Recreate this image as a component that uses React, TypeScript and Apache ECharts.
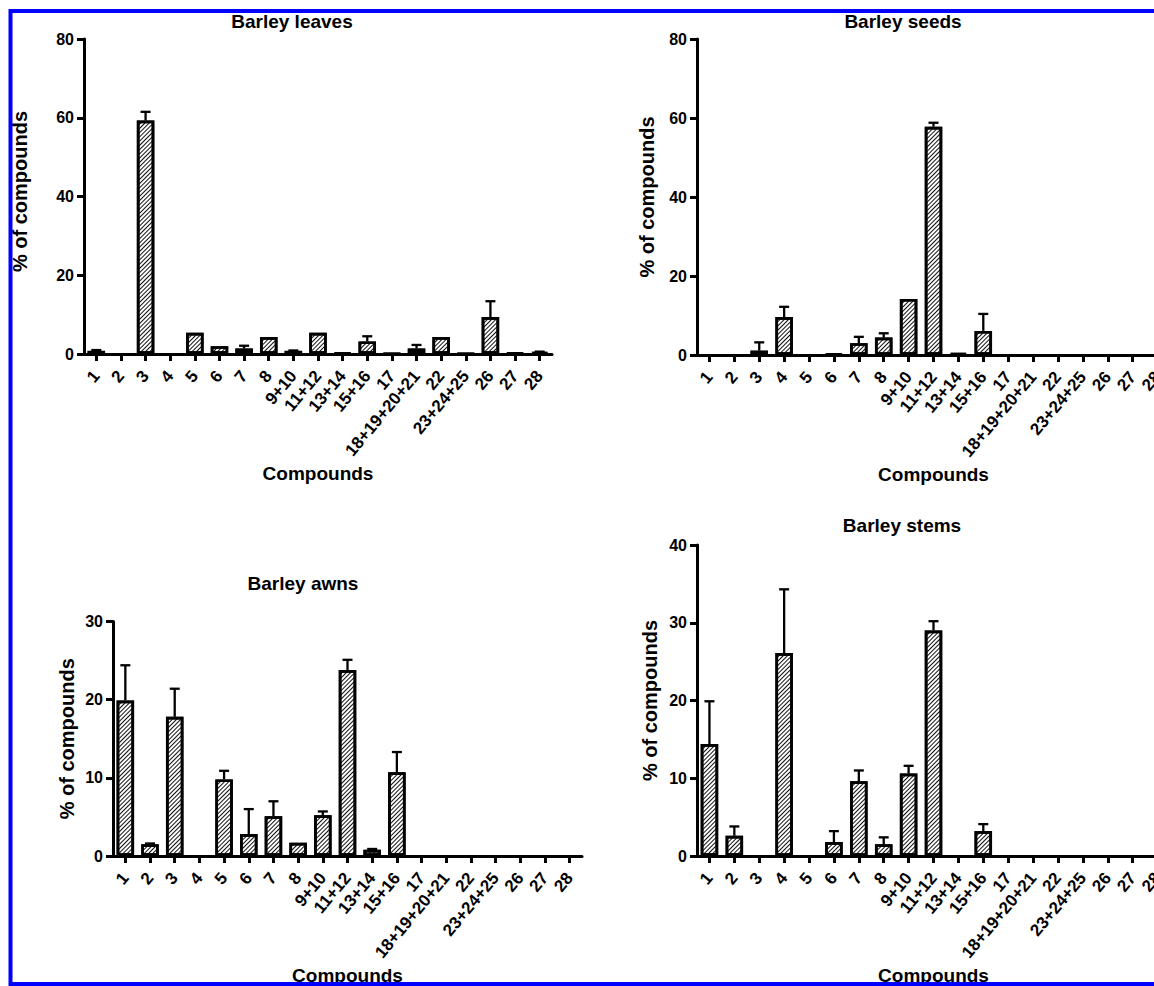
import React, { useEffect, useRef } from "react";
import * as echarts from "echarts";

const FONT = "'Liberation Sans', Arial, Helvetica, sans-serif";

const categories = [
  "1", "2", "3", "4", "5", "6", "7", "8", "9+10", "11+12", "13+14", "15+16",
  "17", "18+19+20+21", "22", "23+24+25", "26", "27", "28",
];

const leavesMean = [0.8, 0, 59.3, 0, 5.4, 2.0, 1.4, 4.3, 0.8, 5.4, 0.3, 3.2, 0.1, 1.4, 4.3, 0.1, 9.4, 0.3, 0.5];
const leavesErr = [0.2, 0, 2.2, 0, 0, 0, 0.7, 0, 0.1, 0, 0, 1.3, 0, 0.9, 0, 0, 4.0, 0, 0.1];

const seedsMean = [0, 0, 1.1, 9.6, 0, 0.3, 3.0, 4.4, 14.2, 57.8, 0.5, 6.1, 0, 0, 0, 0, 0, 0, 0];
const seedsErr = [0, 0, 2.1, 2.6, 0, 0, 1.6, 1.1, 0, 1.0, 0, 4.3, 0, 0, 0, 0, 0, 0, 0];

const awnsMean = [19.9, 1.5, 17.8, 0, 9.8, 2.8, 5.1, 1.7, 5.2, 23.8, 0.8, 10.7, 0, 0, 0, 0, 0, 0, 0];
const awnsErr = [4.5, 0.1, 3.6, 0, 1.1, 3.2, 1.9, 0, 0.5, 1.3, 0.1, 2.6, 0, 0, 0, 0, 0, 0, 0];

const stemsMean = [14.4, 2.6, 0, 26.1, 0, 1.8, 9.6, 1.5, 10.6, 29.0, 0, 3.2, 0, 0, 0, 0, 0, 0, 0];
const stemsErr = [5.5, 1.2, 0, 8.2, 0, 1.4, 1.4, 0.9, 1.0, 1.2, 0, 0.9, 0, 0, 0, 0, 0, 0, 0];

const panels = [
  { title: "Barley leaves", mean: leavesMean, err: leavesErr, max: 80, interval: 20,
    grid: { left: 84, top: 39, width: 468, height: 315 }, titleX: 292, titleTop: 12, yGap: 54, yNamePad: [0, 0, 0, 10] },
  { title: "Barley seeds", mean: seedsMean, err: seedsErr, max: 80, interval: 20,
    grid: { left: 697, top: 39, width: 473, height: 316 }, titleX: 903, titleTop: 12, yGap: 40, yNamePad: [0, 0, 0, 0] },
  { title: "Barley awns", mean: awnsMean, err: awnsErr, max: 30, interval: 10,
    grid: { left: 113, top: 621.5, width: 469, height: 240 }, titleX: 303, titleTop: 574, yGap: 36, yNamePad: [0, 0, 0, 0] },
  { title: "Barley stems", mean: stemsMean, err: stemsErr, max: 40, interval: 10,
    grid: { left: 697, top: 545, width: 473, height: 316 }, titleX: 902, titleTop: 516, yGap: 37, yNamePad: [0, 0, 0, 0] },
];

export default function App() {
  const ref = useRef<HTMLDivElement>(null);
  useEffect(() => {
    if (!ref.current) return;
    const chart = echarts.init(ref.current, null, { renderer: "svg" });
    const decal = {
      symbol: "rect",
      symbolSize: 1,
      color: "#111",
      dashArrayX: [1, 0],
      dashArrayY: [1, 2],
      rotation: -Math.PI / 4,
    };
    const option: any = {
      animation: false,
      backgroundColor: "#fff",
      title: panels.map((p) => ({
        text: p.title,
        left: p.titleX,
        top: p.titleTop,
        textAlign: "center",
        padding: 0,
        textStyle: { fontFamily: FONT, fontSize: 19, fontWeight: "bold", color: "#000" },
      })),
      grid: panels.map((p) => ({ ...p.grid, containLabel: false })),
      xAxis: panels.map((p, i) => ({
        type: "category",
        gridIndex: i,
        data: categories,
        name: "Compounds",
        nameLocation: "middle",
        nameGap: 110,
        nameTextStyle: { fontFamily: FONT, fontSize: 19, fontWeight: "bold", color: "#000" },
        axisLine: { show: true, lineStyle: { color: "#000", width: 3 } },
        axisTick: { show: true, alignWithLabel: true, length: 7, lineStyle: { color: "#000", width: 3 } },
        axisLabel: {
          interval: 0,
          rotate: 50,
          margin: 19,
          fontFamily: FONT,
          fontSize: 17,
          fontWeight: "bold",
          color: "#000",
        },
        splitLine: { show: false },
      })),
      yAxis: panels.map((p, i) => ({
        type: "value",
        gridIndex: i,
        min: 0,
        max: p.max,
        interval: p.interval,
        name: "% of compounds",
        nameLocation: "middle",
        nameGap: p.yGap,
        nameTextStyle: { fontFamily: FONT, fontSize: 20, fontWeight: "bold", color: "#000", padding: p.yNamePad },
        axisLine: { show: true, lineStyle: { color: "#000", width: 3 } },
        axisTick: { show: true, length: 7, lineStyle: { color: "#000", width: 3 } },
        axisLabel: { margin: 10, fontFamily: FONT, fontSize: 16, fontWeight: "bold", color: "#000" },
        splitLine: { show: false },
      })),
      series: [
        ...panels.map((p, i) => ({
          type: "bar",
          xAxisIndex: i,
          yAxisIndex: i,
          data: p.mean.map((v) => (v > 0 ? v : "-")),
          barWidth: 17.5,
          itemStyle: { color: "#fff", borderColor: "#000", borderWidth: 2.7, decal },
        })),
        ...panels.map((p, i) => ({
          type: "custom",
          xAxisIndex: i,
          yAxisIndex: i,
          data: p.mean.map((m, j) => [j, m, p.err[j]]),
          encode: { x: 0, y: 1 },
          renderItem: (params: any, api: any) => {
            const x = api.value(0);
            const m = api.value(1);
            const e = api.value(2);
            if (!(e > 0)) return null;
            const p0 = api.coord([x, m]);
            const p1 = api.coord([x, m + e]);
            const st = { stroke: "#000", lineWidth: 2.3 };
            return {
              type: "group",
              children: [
                { type: "line", shape: { x1: p0[0], y1: p0[1], x2: p1[0], y2: p1[1] }, style: st },
                { type: "line", shape: { x1: p1[0] - 5, y1: p1[1], x2: p1[0] + 5, y2: p1[1] }, style: st },
              ],
            };
          },
        })),
      ],
      graphic: [
        {
          type: "rect",
          z: 100,
          silent: true,
          shape: { x: 10.5, y: 11, width: 1400, height: 973 },
          style: { fill: "none", stroke: "#0000ff", lineWidth: 4 },
        },
      ],
    };
    chart.setOption(option);
    return () => chart.dispose();
  }, []);
  return (
    <div style={{ position: "fixed", left: 0, top: 0, width: 1154, height: 986, overflow: "hidden", background: "#fff" }}>
      <div ref={ref} style={{ width: 1200, height: 986 }} />
    </div>
  );
}
